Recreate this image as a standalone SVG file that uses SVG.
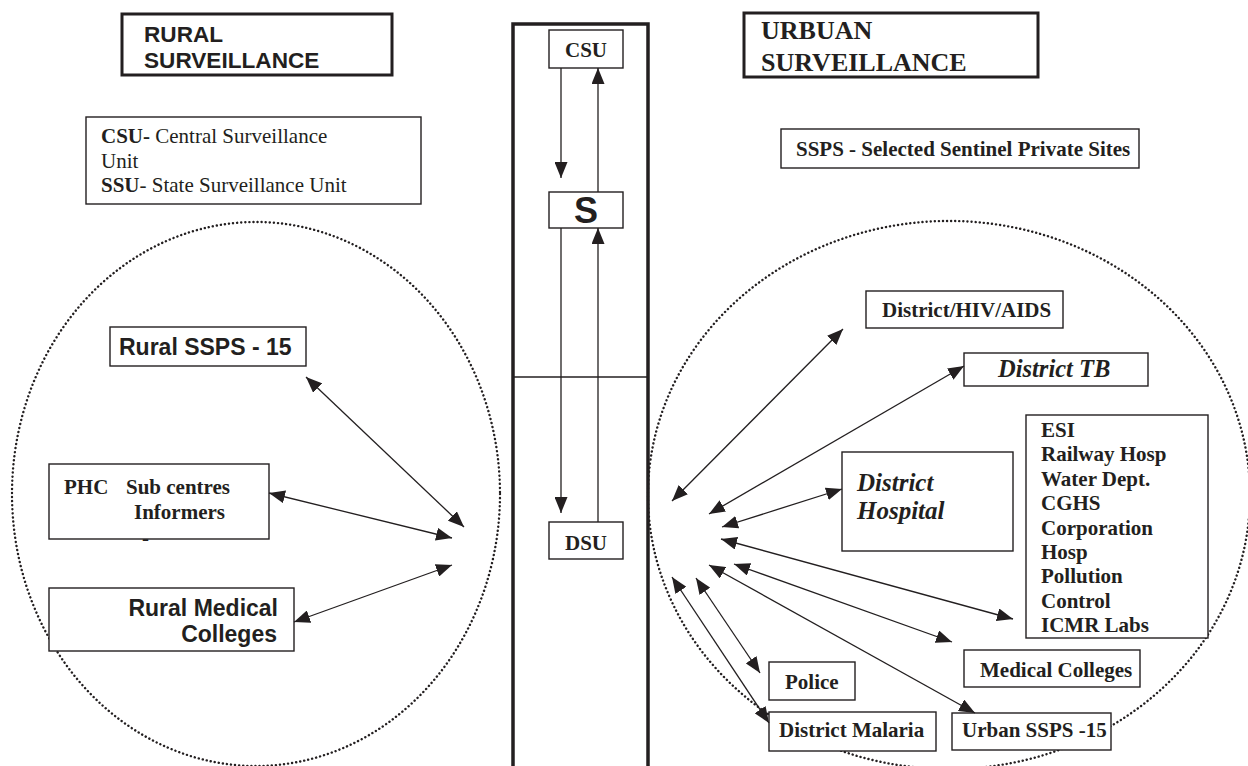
<svg xmlns="http://www.w3.org/2000/svg" width="1248" height="766" viewBox="0 0 1248 766">
  <defs>
    <style>
      .box { fill: #ffffff; stroke: #231f20; stroke-width: 1.4; }
      .thick { fill: #ffffff; stroke: #231f20; stroke-width: 3; }
      .zone { fill: none; stroke: #231f20; stroke-width: 2.4; stroke-dasharray: 0.1 4; stroke-linecap: round; }
      .col { fill: none; stroke: #231f20; stroke-width: 3.5; }
      .link { fill: none; stroke: #231f20; stroke-width: 1.3; marker-end: url(#head); }
      .both { marker-start: url(#head); }
      .sans { font-family: "Liberation Sans", Arial, sans-serif; font-weight: bold; fill: #231f20; }
      .serif { font-family: "Liberation Serif", "Times New Roman", serif; fill: #231f20; }
      .b { font-weight: bold; }
      .bi { font-weight: bold; font-style: italic; }
    </style>
    <marker id="head" viewBox="0 0 16 13" markerWidth="16" markerHeight="13" refX="16" refY="6.5" orient="auto-start-reverse" markerUnits="userSpaceOnUse">
      <path d="M0,0 L16,6.5 L0,13 Z" fill="#231f20"/>
    </marker>
  </defs>

  <rect width="1248" height="766" fill="#ffffff"/>

  <!-- dotted zones -->
  <ellipse class="zone" cx="256" cy="494" rx="244" ry="272"/>
  <ellipse class="zone" cx="949" cy="495" rx="301" ry="274"/>

  <!-- central column -->
  <g id="column">
    <path class="col" d="M513,768 L513,24 L648,24 L648,768"/>
    <line x1="513" y1="377" x2="648" y2="377" stroke="#231f20" stroke-width="1.3"/>
  </g>

  <g id="rural-title">
    <rect class="thick" x="122" y="14" width="270" height="61"/>
    <text class="sans" font-size="22.6" x="144" y="42">RURAL</text>
    <text class="sans" font-size="22.6" x="144" y="68">SURVEILLANCE</text>
  </g>

  <g id="legend">
    <rect class="box" x="86" y="117" width="335" height="87"/>
    <text class="serif" font-size="21" x="101" y="143"><tspan class="b">CSU-</tspan> Central Surveillance</text>
    <text class="serif" font-size="21" x="101" y="168">Unit</text>
    <text class="serif" font-size="21" x="101" y="192"><tspan class="b">SSU</tspan>- State Surveillance Unit</text>
  </g>

  <g id="urban-title">
    <rect class="thick" x="744" y="13" width="294" height="64"/>
    <text class="serif b" font-size="26" x="761" y="39">URBUAN</text>
    <text class="serif b" font-size="26" x="761" y="71">SURVEILLANCE</text>
  </g>

  <g id="sspslegend">
    <rect class="box" x="781" y="129" width="358" height="39"/>
    <text class="serif b" font-size="21" x="796" y="156">SSPS - Selected Sentinel Private Sites</text>
  </g>

  <g id="csu">
    <rect class="box" x="549" y="30" width="74" height="38"/>
    <text class="serif b" font-size="21" x="586" y="57" text-anchor="middle">CSU</text>
  </g>

  <g id="ssu">
    <rect class="box" x="549" y="192" width="74" height="36"/>
    <text class="sans" font-size="36" x="586" y="223" text-anchor="middle">S</text>
  </g>

  <g id="dsu">
    <rect class="box" x="549" y="522" width="74" height="37"/>
    <text class="serif b" font-size="21" x="586" y="550" text-anchor="middle">DSU</text>
  </g>

  <g id="rural-sspss">
    <rect class="box" x="110" y="327" width="196" height="39"/>
    <text class="sans" font-size="23" x="119" y="355">Rural SSPS - 15</text>
  </g>

  <g id="phc">
    <rect class="box" x="49" y="464" width="220" height="75"/>
    <text class="serif b" font-size="21" x="64" y="494">PHC</text>
    <text class="serif b" font-size="21" x="126" y="494">Sub centres</text>
    <text class="serif b" font-size="21" x="134" y="519">Informers</text>
    <text class="serif b" font-size="21" x="142" y="545">-</text>
  </g>

  <g id="rural-medical">
    <rect class="box" x="49" y="588" width="245" height="63"/>
    <text class="sans" font-size="23" x="278" y="616" text-anchor="end">Rural Medical</text>
    <text class="sans" font-size="23" x="277" y="642" text-anchor="end">Colleges</text>
  </g>

  <g id="hiv">
    <rect class="box" x="866" y="291" width="197" height="37"/>
    <text class="serif b" font-size="21" x="882" y="317">District/HIV/AIDS</text>
  </g>

  <g id="tb">
    <rect class="box" x="964" y="353" width="184" height="33"/>
    <text class="serif bi" font-size="24.5" x="998" y="377">District TB</text>
  </g>

  <g id="district-hospital">
    <rect class="box" x="842" y="452" width="171" height="99"/>
    <text class="serif bi" font-size="25" x="857" y="491">District</text>
    <text class="serif bi" font-size="25" x="857" y="519">Hospital</text>
  </g>

  <g id="others">
    <rect class="box" x="1026" y="415" width="182" height="223"/>
    <text class="serif b" font-size="21" x="1041" y="437">ESI</text>
    <text class="serif b" font-size="21" x="1041" y="461">Railway Hosp</text>
    <text class="serif b" font-size="21" x="1041" y="486">Water Dept.</text>
    <text class="serif b" font-size="21" x="1041" y="510">CGHS</text>
    <text class="serif b" font-size="21" x="1041" y="535">Corporation</text>
    <text class="serif b" font-size="21" x="1041" y="559">Hosp</text>
    <text class="serif b" font-size="21" x="1041" y="583">Pollution</text>
    <text class="serif b" font-size="21" x="1041" y="608">Control</text>
    <text class="serif b" font-size="21" x="1041" y="632">ICMR Labs</text>
  </g>

  <g id="medical-colleges">
    <rect class="box" x="964" y="650" width="176" height="37"/>
    <text class="serif b" font-size="21" x="980" y="677">Medical Colleges</text>
  </g>

  <g id="police">
    <rect class="box" x="769" y="662" width="86" height="38"/>
    <text class="serif b" font-size="21" x="785" y="689">Police</text>
  </g>

  <g id="malaria">
    <rect class="box" x="769" y="712" width="167" height="39" stroke-width="2.6"/>
    <text class="serif b" font-size="21" x="779" y="737">District Malaria</text>
  </g>

  <g id="urban-sspss">
    <rect class="box" x="952" y="713" width="159" height="37"/>
    <text class="serif b" font-size="21" x="962" y="737">Urban SSPS -15</text>
  </g>

  <!-- connectors -->
  <g id="connectors">
    <line class="link" x1="561" y1="68" x2="561" y2="178"/>
    <line class="link" x1="598" y1="192" x2="598" y2="68"/>
    <line class="link" x1="561" y1="228" x2="561" y2="513"/>
    <line class="link" x1="598" y1="522" x2="598" y2="228"/>

    <line class="link both" x1="306" y1="377" x2="464" y2="527"/>
    <line class="link both" x1="269" y1="493" x2="452" y2="538"/>
    <line class="link both" x1="294" y1="622" x2="452" y2="565"/>

    <line class="link both" x1="672" y1="501" x2="843" y2="329"/>
    <line class="link both" x1="709" y1="514" x2="964" y2="366"/>
    <line class="link both" x1="722" y1="527" x2="842" y2="489"/>
    <line class="link both" x1="721" y1="539" x2="1013" y2="619"/>
    <line class="link both" x1="734" y1="564" x2="952" y2="642"/>
    <line class="link both" x1="709" y1="565" x2="975" y2="713"/>
    <line class="link both" x1="696" y1="578" x2="760" y2="673"/>
    <line class="link both" x1="672" y1="577" x2="769" y2="723"/>
  </g>
</svg>
